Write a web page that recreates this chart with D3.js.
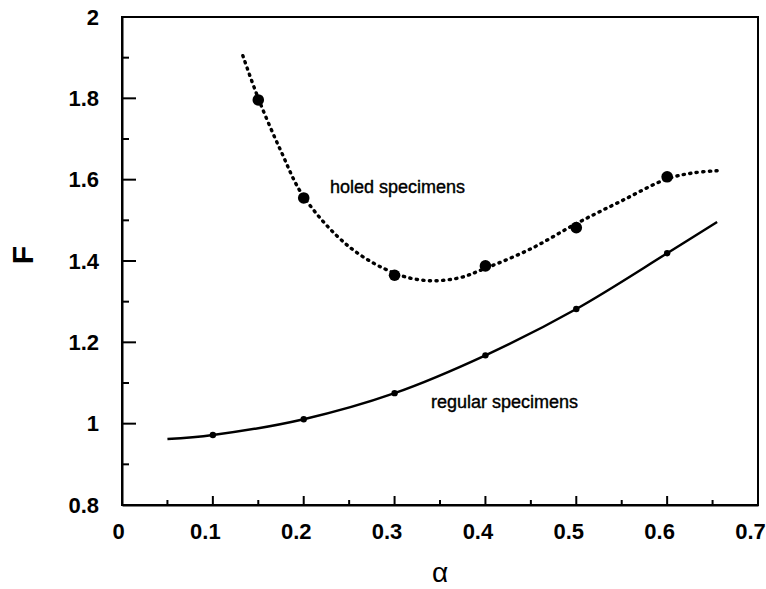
<!DOCTYPE html>
<html>
<head>
<meta charset="utf-8">
<script src="https://cdn.jsdelivr.net/npm/d3@7"></script>
<style>
  html, body { margin: 0; padding: 0; background: #fff; }
  svg { display: block; }
  text { font-family: "Liberation Sans", Arial, sans-serif; fill: #000; }
</style>
</head>
<body>
<svg id="chart" width="766" height="589"></svg>
<script>
// Measured points
const alphaRegular = [0.1, 0.2, 0.3, 0.4, 0.5, 0.6];
const regularF     = [0.972, 1.011, 1.075, 1.168, 1.282, 1.419];
const alphaHoled   = [0.15, 0.2, 0.3, 0.4, 0.5, 0.6];
const holedF       = [1.796, 1.555, 1.365, 1.388, 1.482, 1.607];

// Fitted curves (sampled along each fit)
const regularFitAlpha = [0.05, 0.1, 0.2, 0.3, 0.4, 0.5, 0.6, 0.655];
const regularFitF     = [0.962, 0.972, 1.011, 1.075, 1.168, 1.282, 1.419, 1.496];
const holedFitAlpha   = [0.133, 0.15, 0.175, 0.2, 0.25, 0.3, 0.335, 0.37, 0.4, 0.45, 0.5, 0.55, 0.6, 0.63, 0.655];
const holedFitF       = [1.905, 1.80, 1.67, 1.558, 1.435, 1.37, 1.352, 1.358, 1.382, 1.43, 1.492, 1.548, 1.602, 1.617, 1.622];

// Axis ticks and labels
const xTicks = [0, 0.1, 0.2, 0.3, 0.4, 0.5, 0.6, 0.7];
const xTickLabels = ["0", "0.1", "0.2", "0.3", "0.4", "0.5", "0.6", "0.7"];
const xMinorTicks = [0.05, 0.15, 0.25, 0.35, 0.45, 0.55, 0.65];
const yTicks = [0.8, 1, 1.2, 1.4, 1.6, 1.8, 2];
const yTickLabels = ["0.8", "1", "1.2", "1.4", "1.6", "1.8", "2"];
const yMinorTicks = [0.9, 1.1, 1.3, 1.5, 1.7, 1.9];

const svg = d3.select("#chart");
const plotLeft = 122, plotRight = 758, plotTop = 17, plotBottom = 505;

const x = d3.scaleLinear().domain([0, 0.7]).range([plotLeft, plotRight]);
const y = d3.scaleLinear().domain([0.8, 2]).range([plotBottom, plotTop]);

// Frame
svg.append("rect")
  .attr("x", plotLeft).attr("y", plotTop)
  .attr("width", plotRight - plotLeft).attr("height", plotBottom - plotTop)
  .attr("fill", "none").attr("stroke", "#000").attr("stroke-width", 2);

// Tick labels via d3 axes
const xAxisG = svg.append("g").attr("transform", `translate(0,${plotBottom})`)
  .call(d3.axisBottom(x).tickValues(xTicks).tickSize(0).tickPadding(18)
    .tickFormat((d, i) => xTickLabels[i]));
xAxisG.selectAll(".tick text")
  .attr("dx", (d, i) => xTickLabels[i].length > 1 ? -8 : -4);
svg.append("g").attr("transform", `translate(${plotLeft},0)`)
  .call(d3.axisLeft(y).tickValues(yTicks).tickSize(0).tickPadding(23)
    .tickFormat((d, i) => yTickLabels[i]));

svg.selectAll(".domain").attr("stroke", "#000").attr("stroke-width", 2);
svg.selectAll(".tick text")
  .attr("font-family", "'Liberation Sans', Arial, sans-serif")
  .attr("font-size", 22).attr("font-weight", "bold").attr("fill", "#000");

// Inward tick marks
const ticks = svg.append("g").attr("stroke", "#000").attr("stroke-width", 2);
ticks.selectAll(".xmaj").data(xTicks).join("line").attr("class", "xmaj")
  .attr("x1", d => x(d)).attr("x2", d => x(d))
  .attr("y1", plotBottom).attr("y2", plotBottom - 9);
ticks.selectAll(".xmin").data(xMinorTicks).join("line").attr("class", "xmin")
  .attr("x1", d => x(d)).attr("x2", d => x(d))
  .attr("y1", plotBottom).attr("y2", plotBottom - 5);
ticks.selectAll(".ymaj").data(yTicks).join("line").attr("class", "ymaj")
  .attr("y1", d => y(d)).attr("y2", d => y(d))
  .attr("x1", plotLeft).attr("x2", plotLeft + 14);
ticks.selectAll(".ymin").data(yMinorTicks).join("line").attr("class", "ymin")
  .attr("y1", d => y(d)).attr("y2", d => y(d))
  .attr("x1", plotLeft).attr("x2", plotLeft + 7);

// Axis titles
svg.append("text")
  .attr("transform", "translate(33,255) rotate(-90)")
  .attr("text-anchor", "middle")
  .attr("font-size", 30).attr("font-weight", "bold")
  .text("F");
svg.append("text")
  .attr("x", 440).attr("y", 582)
  .attr("text-anchor", "middle")
  .attr("font-size", 28)
  .text("α");

// Curves
const line = d3.line().x(d => x(d[0])).y(d => y(d[1])).curve(d3.curveCatmullRom.alpha(0.5));

svg.append("path")
  .datum(regularFitAlpha.map((a, i) => [a, regularFitF[i]]))
  .attr("d", line)
  .attr("fill", "none").attr("stroke", "#000").attr("stroke-width", 2.5);

svg.append("path")
  .datum(holedFitAlpha.map((a, i) => [a, holedFitF[i]]))
  .attr("d", line)
  .attr("fill", "none").attr("stroke", "#000").attr("stroke-width", 3.4)
  .attr("stroke-linecap", "round")
  .attr("stroke-dasharray", "1.2,5.4");

// Markers
svg.append("g").selectAll("circle")
  .data(alphaRegular.map((a, i) => [a, regularF[i]]))
  .join("circle")
  .attr("cx", d => x(d[0])).attr("cy", d => y(d[1])).attr("r", 3.2)
  .attr("fill", "#000");

svg.append("g").selectAll("circle")
  .data(alphaHoled.map((a, i) => [a, holedF[i]]))
  .join("circle")
  .attr("cx", d => x(d[0])).attr("cy", d => y(d[1])).attr("r", 5.8)
  .attr("fill", "#000");

// Series labels
svg.append("text")
  .attr("x", 330).attr("y", 193)
  .attr("font-size", 18).attr("stroke", "#000").attr("stroke-width", 0.4)
  .text("holed specimens");
svg.append("text")
  .attr("x", 431).attr("y", 408)
  .attr("font-size", 18).attr("stroke", "#000").attr("stroke-width", 0.4)
  .text("regular specimens");
</script>
</body>
</html>
